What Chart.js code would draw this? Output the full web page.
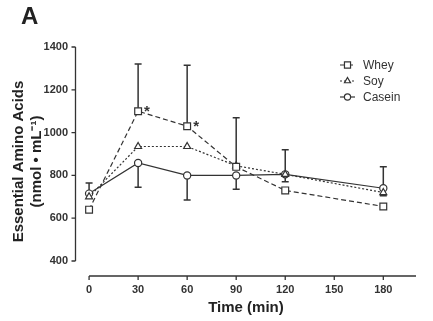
<!DOCTYPE html>
<html>
<head>
<meta charset="utf-8">
<script src="https://cdn.jsdelivr.net/npm/chart.js@4.4.1/dist/chart.umd.min.js"></script>
<style>
  html, body { margin: 0; padding: 0; background: #fff; }
  #wrap { width: 433px; height: 321px; }
</style>
</head>
<body>
<div id="wrap"><canvas id="eaa-chart" width="433" height="321"></canvas></div>
<script>
// time points (min)
const timePoints = [0, 30, 60, 90, 120, 180];
const xTicks = [0, 30, 60, 90, 120, 150, 180];
const yTicks = [400, 600, 800, 1000, 1200, 1400];

// essential amino acids, nmol/mL
const wheyValues = [640, 1100, 1030, 840, 730, 655];
const soyValues = [700, 935, 935, 845, 805, 720];
const caseinValues = [715, 858, 800, 800, 805, 740];

// error bar ends (absolute values, null = none drawn)
const wheyErrTop = [null, 1320, 1315, null, null, null];
const wheyErrBottom = [null, null, null, null, null, null];
const soyErrTop = [null, null, null, 1070, 920, 840];
const soyErrBottom = [null, null, null, null, 770, 705];
const caseinErrTop = [765, null, null, null, null, null];
const caseinErrBottom = [null, 745, 685, 735, null, null];

// significance marks for whey
const wheyMarks = ['', '*', '*', '', '', ''];

const ink = '#333333';
const font = 'Arial, "Liberation Sans", sans-serif';

const toPoints = vals => vals.map((v, i) => ({ x: timePoints[i], y: v }));

// error bars, axes, legend, letter, asterisks
const extras = {
  id: 'extras',
  beforeDatasetsDraw(chart) {
    const ctx = chart.ctx;
    const xs = chart.scales.x;
    const ys = chart.scales.y;
    ctx.save();
    ctx.strokeStyle = ink;
    ctx.lineWidth = 1.3;
    ctx.setLineDash([]);

    // y axis line + ticks (400..1400 only)
    const yTop = ys.getPixelForValue(1400);
    const yBot = ys.getPixelForValue(400);
    const ax = chart.chartArea.left - 0.5;
    ctx.beginPath();
    ctx.moveTo(ax, yTop);
    ctx.lineTo(ax, yBot);
    yTicks.forEach(t => {
      const py = ys.getPixelForValue(t);
      ctx.moveTo(ax - 4, py);
      ctx.lineTo(ax, py);
    });
    ctx.stroke();

    // x axis line + ticks
    const by = chart.chartArea.bottom;
    ctx.beginPath();
    ctx.moveTo(xs.getPixelForValue(0), by);
    ctx.lineTo(xs.getPixelForValue(200), by);
    xTicks.forEach(t => {
      const px = xs.getPixelForValue(t);
      ctx.moveTo(px, by);
      ctx.lineTo(px, by + 4);
    });
    ctx.stroke();

    // error bars
    const errSets = [
      [wheyValues, wheyErrTop, wheyErrBottom],
      [soyValues, soyErrTop, soyErrBottom],
      [caseinValues, caseinErrTop, caseinErrBottom]
    ];
    ctx.lineWidth = 1.5;
    errSets.forEach(([vals, tops, bots]) => {
      vals.forEach((v, i) => {
        const px = xs.getPixelForValue(timePoints[i]);
        const py = ys.getPixelForValue(v);
        [tops[i], bots[i]].forEach(end => {
          if (end === null) return;
          const ey = ys.getPixelForValue(end);
          ctx.beginPath();
          ctx.moveTo(px, py);
          ctx.lineTo(px, ey);
          ctx.moveTo(px - 3.5, ey);
          ctx.lineTo(px + 3.5, ey);
          ctx.stroke();
        });
      });
    });
    ctx.restore();
  },
  afterDraw(chart) {
    const ctx = chart.ctx;
    const xs = chart.scales.x;
    const ys = chart.scales.y;
    ctx.save();

    // panel letter
    ctx.fillStyle = '#222';
    ctx.font = 'bold 24px ' + font;
    ctx.textAlign = 'left';
    ctx.textBaseline = 'alphabetic';
    ctx.fillText('A', 21, 24);

    // asterisks next to whey points
    ctx.font = 'bold 15px ' + font;
    ctx.fillStyle = ink;
    wheyMarks.forEach((m, i) => {
      if (!m) return;
      const px = xs.getPixelForValue(timePoints[i]);
      const py = ys.getPixelForValue(wheyValues[i]);
      ctx.fillText(m, px + 6, py + 5);
    });

    // legend
    const lx = 340, ly = 65, step = 16;
    chart.data.datasets.forEach((ds, i) => {
      const cy = ly + i * step;
      ctx.strokeStyle = ink;
      ctx.lineWidth = 1.2;
      ctx.setLineDash(ds.borderDash || []);
      ctx.beginPath();
      ctx.moveTo(lx, cy);
      ctx.lineTo(lx + 15, cy);
      ctx.stroke();
      ctx.setLineDash([]);
      ctx.fillStyle = '#fff';
      ctx.lineWidth = 1.2;
      Chart.helpers.drawPoint(ctx, {
        pointStyle: ds.pointStyle,
        radius: ds.pointRadius - 0.5,
        borderWidth: 1.2
      }, lx + 7.5, cy);
      ctx.fillStyle = '#333';
      ctx.font = '12px ' + font;
      ctx.textBaseline = 'middle';
      ctx.fillText(ds.label, lx + 23, cy + 0.5);
    });
    ctx.restore();
  }
};

const ctx = document.getElementById('eaa-chart').getContext('2d');

new Chart(ctx, {
  type: 'line',
  data: {
    datasets: [
      {
        label: 'Whey',
        data: toPoints(wheyValues),
        borderColor: ink,
        borderWidth: 1.2,
        borderDash: [5, 3],
        pointStyle: 'rect',
        pointRadius: 4.8,
        pointBackgroundColor: '#fff',
        pointBorderColor: ink,
        pointBorderWidth: 1.2,
        tension: 0
      },
      {
        label: 'Soy',
        data: toPoints(soyValues),
        borderColor: ink,
        borderWidth: 1.2,
        borderDash: [2, 2],
        pointStyle: 'triangle',
        pointRadius: 4,
        pointBackgroundColor: '#fff',
        pointBorderColor: ink,
        pointBorderWidth: 1.2,
        tension: 0
      },
      {
        label: 'Casein',
        data: toPoints(caseinValues),
        borderColor: ink,
        borderWidth: 1.2,
        pointStyle: 'circle',
        pointRadius: 3.6,
        pointBackgroundColor: '#fff',
        pointBorderColor: ink,
        pointBorderWidth: 1.2,
        tension: 0
      }
    ]
  },
  options: {
    responsive: false,
    animation: false,
    layout: { padding: { top: 47, right: 17, left: 0, bottom: 0 } },
    plugins: {
      legend: { display: false },
      tooltip: { enabled: false }
    },
    scales: {
      x: {
        type: 'linear',
        min: -8,
        max: 200,
        afterFit: s => { s.height = 45; },
        afterBuildTicks: s => { s.ticks = xTicks.map(v => ({ value: v })); },
        grid: { display: false, drawTicks: false },
        border: { display: false },
        ticks: {
          padding: 7,
          color: '#333',
          font: { family: font, size: 11, weight: 'bold' },
          maxRotation: 0,
          callback: v => String(v)
        },
        title: {
          display: true,
          text: 'Time (min)',
          color: '#222',
          font: { family: font, size: 15, weight: 'bold' },
          padding: { top: 2, bottom: 4 }
        }
      },
      y: {
        type: 'linear',
        min: 330,
        max: 1400,
        afterFit: s => { s.width = 76; },
        afterBuildTicks: s => { s.ticks = yTicks.map(v => ({ value: v })); },
        grid: { display: false, drawTicks: false },
        border: { display: false },
        ticks: {
          padding: 8,
          color: '#333',
          font: { family: font, size: 11, weight: 'bold' },
          callback: v => String(v)
        },
        title: {
          display: true,
          text: ['Essential Amino Acids', '(nmol \u2022 mL\u207B\u00B9)'],
          color: '#222',
          font: { family: font, size: 15, weight: 'bold', lineHeight: 1.25 },
          padding: { top: 9, bottom: 0 }
        }
      }
    }
  },
  plugins: [extras]
});
</script>
</body>
</html>
